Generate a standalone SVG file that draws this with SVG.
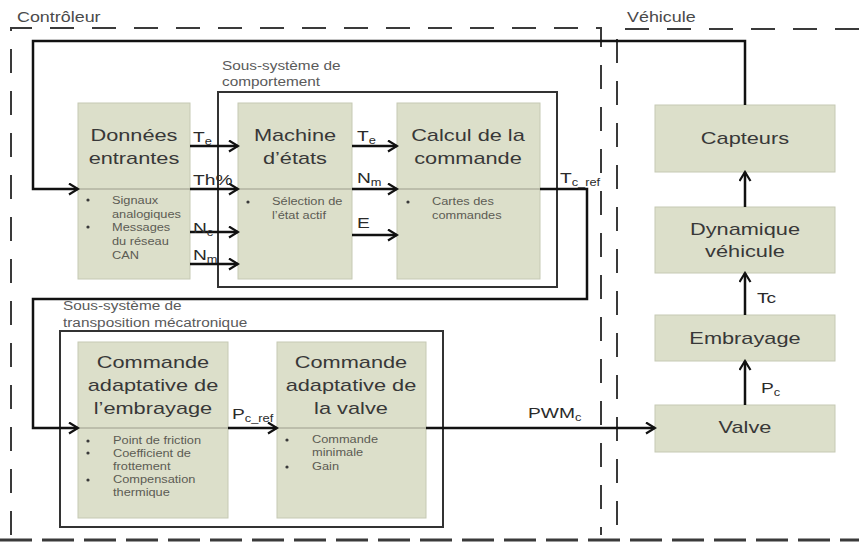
<svg xmlns="http://www.w3.org/2000/svg" width="859" height="542" viewBox="0 0 859 542">
  <style>
    text { font-family: "Liberation Sans", Arial, sans-serif; transform-box: fill-box; }
    .st { text-anchor: start; transform: scaleX(1.28); transform-origin: 0% 50%; }
    .md { text-anchor: middle; transform: scaleX(1.28); transform-origin: 50% 50%; }
    .title { font-size: 17px; fill: #383838; }
    .bullet { font-size: 10px; fill: #5c5c54; }
    .lbl { font-size: 15px; fill: #2a2a2a; }
    .sub { font-size: 10px; }
    .grp { font-size: 12px; fill: #5a5a5a; }
    .frame-lbl { font-size: 14px; fill: #4a4a4a; }
    .box { fill: #dcdfca; stroke: #c6c9b4; stroke-width: 1; }
    .div { stroke: #9c9c8c; stroke-width: 1; }
    .dot { fill: #3a3a3a; }
    .subsys { fill: none; stroke: #333; stroke-width: 2; }
    .frame { fill: none; stroke: #3a3a3a; stroke-width: 2; stroke-dasharray: 24 18; }
    .frame-bottom { fill: none; stroke: #3a3a3a; stroke-width: 3; stroke-dasharray: 32 10; }
    .wire { fill: none; stroke: #111; stroke-width: 2.5; }
    .arrow { marker-end: url(#head); }
  </style>
  <defs>
    <marker id="head" markerUnits="userSpaceOnUse" markerWidth="12" markerHeight="14" refX="10" refY="6" orient="auto">
      <path d="M1,0.5 L10,6 L1,11.5" fill="none" stroke="#111" stroke-width="2.2"/>
    </marker>
  </defs>

  <rect width="859" height="542" fill="#ffffff"/>

  <!-- dashed domain frames -->
  <g id="frames">
    <path class="frame" d="M11,535 V28 H601 V535"/>
    <path class="frame" d="M859,29 H617 V535"/>
    <path class="frame-bottom" d="M0,540 H859"/>
    <text class="frame-lbl st" x="17" y="22">Contrôleur</text>
    <text class="frame-lbl st" x="627" y="22">Véhicule</text>
  </g>

  <!-- sub-system enclosures -->
  <g id="subsys-comportement">
    <rect class="subsys" x="218" y="92" width="339" height="195"/>
    <text class="grp st" x="222" y="70">Sous-système de</text>
    <text class="grp st" x="222" y="86">comportement</text>
  </g>
  <g id="subsys-transposition">
    <rect class="subsys" x="60" y="331" width="383" height="196"/>
    <text class="grp st" x="63" y="310">Sous-système de</text>
    <text class="grp st" x="63" y="327">transposition mécatronique</text>
  </g>

  <!-- controller blocks -->
  <g id="donnees">
    <rect class="box" x="78" y="103" width="112" height="176"/>
    <line class="div" x1="78" y1="189" x2="190" y2="189"/>
    <text class="title md" x="134" y="141">Données</text>
    <text class="title md" x="134" y="164">entrantes</text>
    <circle class="dot" cx="88" cy="200" r="1.6"/>
    <circle class="dot" cx="88" cy="227" r="1.6"/>
    <text class="bullet st" x="112" y="204">Signaux</text>
    <text class="bullet st" x="112" y="218">analogiques</text>
    <text class="bullet st" x="112" y="231">Messages</text>
    <text class="bullet st" x="112" y="245">du réseau</text>
    <text class="bullet st" x="112" y="259">CAN</text>
  </g>

  <g id="machine">
    <rect class="box" x="238" y="103" width="114" height="176"/>
    <line class="div" x1="238" y1="189" x2="352" y2="189"/>
    <text class="title md" x="295" y="141">Machine</text>
    <text class="title md" x="295" y="164">d’états</text>
    <circle class="dot" cx="248" cy="202" r="1.6"/>
    <text class="bullet st" x="272" y="205">Sélection de</text>
    <text class="bullet st" x="272" y="219">l’état actif</text>
  </g>

  <g id="calcul">
    <rect class="box" x="397" y="103" width="143" height="176"/>
    <line class="div" x1="397" y1="189" x2="540" y2="189"/>
    <text class="title md" x="468" y="141">Calcul de la</text>
    <text class="title md" x="468" y="164">commande</text>
    <circle class="dot" cx="408" cy="202" r="1.6"/>
    <text class="bullet st" x="432" y="205">Cartes des</text>
    <text class="bullet st" x="432" y="219">commandes</text>
  </g>

  <g id="cmd-embrayage">
    <rect class="box" x="78" y="342" width="150" height="176"/>
    <line class="div" x1="78" y1="428" x2="228" y2="428"/>
    <text class="title md" x="153" y="368">Commande</text>
    <text class="title md" x="153" y="391">adaptative de</text>
    <text class="title md" x="153" y="414">l’embrayage</text>
    <circle class="dot" cx="88" cy="441" r="1.6"/>
    <circle class="dot" cx="88" cy="453" r="1.6"/>
    <circle class="dot" cx="88" cy="480" r="1.6"/>
    <text class="bullet st" x="113" y="444.5">Point de friction</text>
    <text class="bullet st" x="113" y="457">Coefficient de</text>
    <text class="bullet st" x="113" y="470.5">frottement</text>
    <text class="bullet st" x="113" y="483.5">Compensation</text>
    <text class="bullet st" x="113" y="496.5">thermique</text>
  </g>

  <g id="cmd-valve">
    <rect class="box" x="277" y="342" width="149" height="176"/>
    <line class="div" x1="277" y1="428" x2="426" y2="428"/>
    <text class="title md" x="351" y="368">Commande</text>
    <text class="title md" x="351" y="391">adaptative de</text>
    <text class="title md" x="351" y="414">la valve</text>
    <circle class="dot" cx="287" cy="440" r="1.6"/>
    <circle class="dot" cx="287" cy="467" r="1.6"/>
    <text class="bullet st" x="312" y="443.5">Commande</text>
    <text class="bullet st" x="312" y="456.5">minimale</text>
    <text class="bullet st" x="312" y="470.5">Gain</text>
  </g>

  <!-- vehicle blocks -->
  <g id="capteurs">
    <rect class="box" x="655" y="105" width="180" height="67"/>
    <text class="title md" x="745" y="144">Capteurs</text>
  </g>
  <g id="dynamique">
    <rect class="box" x="655" y="207" width="180" height="66"/>
    <text class="title md" x="745" y="235">Dynamique</text>
    <text class="title md" x="745" y="257">véhicule</text>
  </g>
  <g id="embrayage">
    <rect class="box" x="655" y="315" width="180" height="46"/>
    <text class="title md" x="745" y="344">Embrayage</text>
  </g>
  <g id="valve">
    <rect class="box" x="655" y="405" width="180" height="47"/>
    <text class="title md" x="745" y="433">Valve</text>
  </g>

  <!-- connectors -->
  <g id="connectors">
    <path class="wire arrow" d="M745,105 V41 H33 V189 H78"/>
    <path class="wire arrow" d="M190,146 H238"/>
    <path class="wire arrow" d="M190,189 H238"/>
    <path class="wire arrow" d="M190,232 H238"/>
    <path class="wire arrow" d="M190,264 H238"/>
    <path class="wire arrow" d="M352,146 H397"/>
    <path class="wire arrow" d="M352,189 H397"/>
    <path class="wire arrow" d="M352,235 H397"/>
    <path class="wire arrow" d="M540,189 H587 V299 H33 V428 H78"/>
    <path class="wire arrow" d="M228,428 H277"/>
    <path class="wire arrow" d="M426,428 H655"/>
    <path class="wire arrow" d="M745,405 V361"/>
    <path class="wire arrow" d="M745,315 V273"/>
    <path class="wire arrow" d="M745,207 V172"/>
  </g>

  <!-- signal labels -->
  <g id="signal-labels">
    <text class="lbl st" x="193" y="142">T<tspan class="sub" dy="3">e</tspan></text>
    <text class="lbl st" x="193" y="185">Th%</text>
    <text class="lbl st" x="193" y="233">N<tspan class="sub" dy="3">c</tspan></text>
    <text class="lbl st" x="193" y="260">N<tspan class="sub" dy="3">m</tspan></text>
    <text class="lbl st" x="357" y="141">T<tspan class="sub" dy="3">e</tspan></text>
    <text class="lbl st" x="357" y="183">N<tspan class="sub" dy="3">m</tspan></text>
    <text class="lbl st" x="357" y="228">E</text>
    <text class="lbl st" x="560" y="183">T<tspan class="sub" dy="3">c_ref</tspan></text>
    <text class="lbl st" x="232" y="419">P<tspan class="sub" dy="3">c_ref</tspan></text>
    <text class="lbl st" x="528" y="418">PWM<tspan class="sub" dy="3">c</tspan></text>
    <text class="lbl st" x="757" y="303">Tc</text>
    <text class="lbl st" x="761" y="393">P<tspan class="sub" dy="3">c</tspan></text>
  </g>
</svg>
